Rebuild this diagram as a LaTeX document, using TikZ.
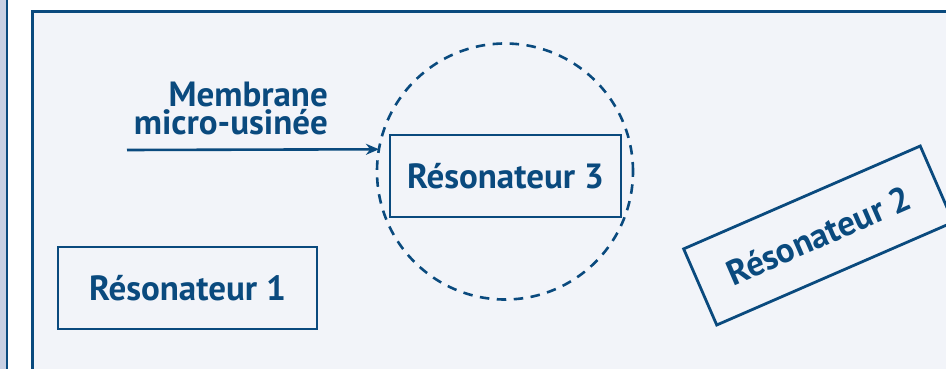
\documentclass[tikz,border=0pt]{standalone}
\usepackage{fontspec}
\setmainfont{PT Sans}
\usetikzlibrary{arrows.meta}
\definecolor{navy}{HTML}{0A4A7E}
\definecolor{paper}{HTML}{F2F4F9}
\definecolor{strip}{HTML}{C8D0E3}
\tikzset{
  lbl/.style={text=navy, font=\bfseries\fontsize{35}{28}\selectfont},
  resbox/.style={draw=navy, line width=2.8pt, lbl, inner sep=0pt, outer sep=0pt},
}
\begin{document}
\begin{tikzpicture}[x=1pt,y=-1pt]
\useasboundingbox (0,0) rectangle (946,369);
\clip (0,0) rectangle (946,369);
\fill[white] (0,0) rectangle (946,369);
\fill[strip] (0,0) rectangle (6,369);
\draw[navy, line width=2.4pt] (7,0) -- (7,369);
\fill[paper] (32,12) rectangle (946,369);
\draw[navy, line width=3pt] (32,369) -- (32,12) -- (946,12);
% membrane
\node[draw=navy, line width=2.6pt, dash pattern=on 9.5pt off 7.5pt, circle, minimum size=256pt, inner sep=0pt, outer sep=0pt] (mem) at (505,171.5) {};
% resonators
\node[resbox, minimum width=231pt, minimum height=82pt] (r3) at (505.5,176) {Résonateur 3};
\node[resbox, minimum width=259pt, minimum height=82pt] (r1) at (187.5,288) {Résonateur 1};
\node[resbox, minimum width=258pt, minimum height=83pt, rotate=23.5] (r2) at (818.5,235.5) {Résonateur 2};
% label and arrow
\node[lbl, align=right, anchor=south east, inner sep=0pt] (lab) at (328,135) {Membrane\\micro-usinée};
\coordinate (start) at (127,150);
\draw[navy, line width=2.6pt, -{Stealth[length=13pt,width=11pt]}] (start) -- (mem.170.3);
\end{tikzpicture}
\end{document}
